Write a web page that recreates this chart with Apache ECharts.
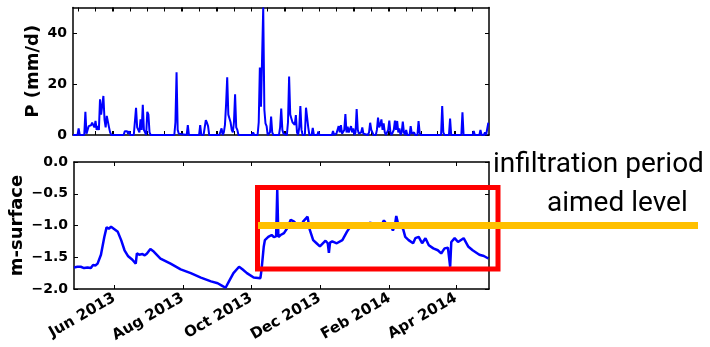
<!DOCTYPE html>
<html>
<head>
<meta charset="utf-8">
<script src="https://cdn.jsdelivr.net/npm/echarts@6/dist/echarts.min.js"></script>
<style>
html,body{margin:0;padding:0;background:#fff;}
#chart{width:710px;height:347px;}
</style>
</head>
<body>
<div id="chart"></div>
<script>
// ---- Data ----
const precipDates = [
'2013-04-26','2013-04-30','2013-05-01','2013-05-02','2013-05-06','2013-05-07','2013-05-08','2013-05-09','2013-05-10','2013-05-11',
'2013-05-12','2013-05-13','2013-05-14','2013-05-15','2013-05-16','2013-05-17','2013-05-18','2013-05-19','2013-05-20','2013-05-21',
'2013-05-22','2013-05-23','2013-05-24','2013-05-25','2013-05-26','2013-05-27','2013-05-28','2013-05-29','2013-05-30','2013-06-10',
'2013-06-11','2013-06-12','2013-06-13','2013-06-14','2013-06-15','2013-06-16','2013-06-19','2013-06-20','2013-06-21','2013-06-22',
'2013-06-23','2013-06-24','2013-06-25','2013-06-26','2013-06-27','2013-06-28','2013-06-29','2013-06-30','2013-07-01','2013-07-02',
'2013-07-03','2013-07-04','2013-07-25','2013-07-26','2013-07-27','2013-07-28','2013-07-29','2013-07-30','2013-08-05','2013-08-06',
'2013-08-07','2013-08-16','2013-08-17','2013-08-18','2013-08-20','2013-08-21','2013-08-22','2013-08-23','2013-08-24','2013-08-25',
'2013-09-03','2013-09-04','2013-09-05','2013-09-06','2013-09-07','2013-09-08','2013-09-09','2013-09-10','2013-09-11','2013-09-12',
'2013-09-13','2013-09-14','2013-09-15','2013-09-16','2013-09-17','2013-09-18','2013-09-19','2013-09-20','2013-10-02','2013-10-03',
'2013-10-04','2013-10-07','2013-10-08','2013-10-09','2013-10-10','2013-10-11','2013-10-12','2013-10-13','2013-10-14','2013-10-15',
'2013-10-16','2013-10-18','2013-10-19','2013-10-20','2013-10-21','2013-10-26','2013-10-27','2013-10-28','2013-10-29','2013-10-30',
'2013-10-31','2013-11-02','2013-11-03','2013-11-04','2013-11-05','2013-11-06','2013-11-07','2013-11-08','2013-11-09','2013-11-10',
'2013-11-11','2013-11-12','2013-11-13','2013-11-14','2013-11-15','2013-11-16','2013-11-18','2013-11-19','2013-11-20','2013-11-21',
'2013-11-22','2013-11-24','2013-11-25','2013-11-26','2013-11-29','2013-11-30','2013-12-01','2013-12-12','2013-12-13','2013-12-14',
'2013-12-16','2013-12-17','2013-12-18','2013-12-19','2013-12-20','2013-12-21','2013-12-22','2013-12-23','2013-12-24','2013-12-25',
'2013-12-26','2013-12-27','2013-12-28','2013-12-29','2013-12-30','2013-12-31','2014-01-01','2014-01-02','2014-01-03','2014-01-04',
'2014-01-05','2014-01-06','2014-01-07','2014-01-08','2014-01-09','2014-01-10','2014-01-13','2014-01-14','2014-01-15','2014-01-16',
'2014-01-17','2014-01-18','2014-01-20','2014-01-21','2014-01-22','2014-01-23','2014-01-24','2014-01-25','2014-01-26','2014-01-27',
'2014-01-28','2014-01-29','2014-01-30','2014-01-31','2014-02-01','2014-02-02','2014-02-03','2014-02-04','2014-02-05','2014-02-06',
'2014-02-07','2014-02-08','2014-02-09','2014-02-10','2014-02-11','2014-02-12','2014-02-13','2014-02-14','2014-02-15','2014-02-16',
'2014-02-17','2014-02-19','2014-02-20','2014-02-21','2014-02-22','2014-02-23','2014-02-24','2014-02-26','2014-02-27','2014-02-28',
'2014-03-01','2014-03-19','2014-03-20','2014-03-21','2014-03-22','2014-03-26','2014-03-27','2014-03-28','2014-04-06','2014-04-07',
'2014-04-08','2014-04-16','2014-04-17','2014-04-18','2014-04-22','2014-04-23','2014-04-24','2014-04-26','2014-04-27','2014-04-28',
'2014-04-29','2014-04-30'
];
const precipValues = [
0,0,2.6,0,0,9.1,0.5,1,3.5,4.2,
3.8,4.8,4.5,3,5.5,2,3.5,2,14,8,
7.8,15.3,6,3,7.5,7.4,3,1,0,0,
1.5,1,1.5,0.5,1.5,0,0,0.5,10.7,3,
2.6,1,6.1,2,11.8,2,1,0,9.1,8,
1,0,0,5,24.6,2,0.5,0,0,3.9,
0,0,3.9,0,0,0.5,5.8,4.8,3.5,0,
0,0.5,2.6,0,1,4,12,22.6,8,6.5,
5,2,1,5,16,3,2,0,0,1,
0,0,5,26.5,11.1,10.5,50,10,4.6,3.5,
0,1,7.2,1,0,0,3,10.4,2,0.5,
0,0,5,22.9,8,6.5,5,5.3,4,7.8,
1,0,3,11.4,2,0,0,10.7,10.4,3,
0,0,2.8,0,0,1.4,0,0,1.6,0,
0.5,1,3.5,1,3.9,0.5,1,2,8.2,1,
3.3,1,0.5,3.5,1,2.6,0,1,10.2,2,
0.5,0,1,3,0.5,0,0,1,4.8,2,
1,0,0,2,6.8,3,4,6.1,2,4.6,
1,0,1,2,5.6,1,0,0.5,2,5.6,
2,5.5,1,2.6,0,1,5.3,1,0,2,
0,0,3.5,0.5,0,1,0,0,5.5,0.8,
0,0,11.4,1,0,0,6.4,0,0,8.9,
0,0,1.6,0,0,2,0,0,1,0,
0.5,4.8
];

const levelDates = [
'2013-04-26','2013-04-29','2013-05-02','2013-05-05','2013-05-08','2013-05-11','2013-05-13','2013-05-15','2013-05-17','2013-05-20',
'2013-05-23','2013-05-25','2013-05-27','2013-05-29','2013-06-01','2013-06-04','2013-06-07','2013-06-10','2013-06-13','2013-06-17',
'2013-06-20','2013-06-21','2013-06-23','2013-06-26','2013-06-28','2013-06-30','2013-07-03','2013-07-06','2013-07-12','2013-07-21',
'2013-07-30','2013-08-08','2013-08-17','2013-08-26','2013-09-01','2013-09-05','2013-09-08','2013-09-11','2013-09-15','2013-09-20',
'2013-09-23','2013-09-27','2013-10-03','2013-10-09','2013-10-10','2013-10-12','2013-10-13','2013-10-16','2013-10-19','2013-10-21',
'2013-10-22','2013-10-23','2013-10-24','2013-10-25','2013-10-27','2013-10-30','2013-11-02','2013-11-05','2013-11-08','2013-11-11',
'2013-11-14','2013-11-16','2013-11-20','2013-11-22','2013-11-25','2013-11-28','2013-12-01','2013-12-06','2013-12-08','2013-12-09',
'2013-12-10','2013-12-12','2013-12-16','2013-12-21','2013-12-25','2013-12-28','2014-01-01','2014-01-04','2014-01-08','2014-01-12',
'2014-01-15','2014-01-18','2014-01-21','2014-01-24','2014-01-27','2014-01-30','2014-02-02','2014-02-04','2014-02-06','2014-02-07',
'2014-02-09','2014-02-13','2014-02-15','2014-02-18','2014-02-19','2014-02-22','2014-02-24','2014-02-27','2014-03-02','2014-03-05',
'2014-03-08','2014-03-12','2014-03-16','2014-03-19','2014-03-22','2014-03-25','2014-03-26','2014-03-27','2014-03-28','2014-03-31',
'2014-04-03','2014-04-08','2014-04-12','2014-04-16','2014-04-22','2014-04-26','2014-04-30'
];
const levelValues = [
-1.66,-1.65,-1.65,-1.67,-1.66,-1.67,-1.62,-1.63,-1.60,-1.46,
-1.18,-1.03,-1.05,-1.02,-1.06,-1.10,-1.23,-1.39,-1.48,-1.54,
-1.60,-1.44,-1.46,-1.45,-1.47,-1.44,-1.37,-1.41,-1.52,-1.60,
-1.69,-1.75,-1.82,-1.88,-1.91,-1.95,-1.98,-1.88,-1.75,-1.65,
-1.69,-1.75,-1.82,-1.83,-1.70,-1.33,-1.23,-1.18,-1.15,-1.18,
-1.20,-1.17,-0.44,-1.18,-1.15,-1.12,-1.04,-0.91,-0.94,-1.00,
-1.04,-0.94,-0.86,-1.07,-1.23,-1.28,-1.33,-1.24,-1.28,-1.43,
-1.27,-1.25,-1.28,-1.23,-1.10,-1.02,-1.00,-0.97,-1.02,-1.00,
-0.95,-1.03,-0.98,-1.02,-0.92,-1.00,-0.98,-1.08,-0.97,-0.85,
-1.00,-1.05,-1.18,-1.23,-1.25,-1.28,-1.20,-1.18,-1.28,-1.20,
-1.31,-1.36,-1.39,-1.44,-1.36,-1.35,-1.36,-1.65,-1.26,-1.20,
-1.26,-1.20,-1.33,-1.39,-1.46,-1.48,-1.52
];

const xTickDates = ['2013-06-01','2013-08-01','2013-10-01','2013-12-01','2014-02-01','2014-04-01'];
const xTickLabels = ['Jun 2013','Aug 2013','Oct 2013','Dec 2013','Feb 2014','Apr 2014'];
const pTicks = [0, 20, 40];
const levelTicks = [-2.0, -1.5, -1.0, -0.5, 0.0];
const xStart = '2013-04-26';
const xEnd = '2014-04-30';

// ---- helpers ----
function toTs(s) { const p = s.split('-').map(Number); return new Date(p[0], p[1] - 1, p[2]).getTime(); }
const xMin = toTs(xStart);
const xMax = toTs(xEnd) + 14 * 3600 * 1000;
const bottomTicks = xTickDates.map(toTs);
const labelByTs = {};
bottomTicks.forEach((t, i) => { labelByTs[t] = xTickLabels[i]; });
// top panel: date ticks on days 1, 16, 31 of each month
const topTicks = [];
for (let y = 2013; y <= 2014; y++) {
  for (let m = 0; m < 12; m++) {
    [1, 16, 31].forEach(d => {
      const dt = new Date(y, m, d);
      if (dt.getMonth() === m) {
        const t = dt.getTime();
        if (t >= xMin && t <= xMax) topTicks.push(t);
      }
    });
  }
}

const FONT = 'DejaVu Sans';
const frame = { show: true, onZero: false, lineStyle: { color: '#000', width: 1.5 } };
const tickStyle = { lineStyle: { color: '#000', width: 1 } };

function xAx(grid, pos, ticks, labels) {
  return {
    type: 'value', gridIndex: grid, position: pos, min: xMin, max: xMax,
    axisLine: frame,
    axisTick: Object.assign({ show: true, inside: true, length: 4, customValues: ticks }, tickStyle),
    axisLabel: labels ? {
      show: true, customValues: ticks, rotate: 30, margin: 8,
      fontFamily: FONT, fontWeight: 'bold', fontSize: 15, color: '#000',
      formatter: v => labelByTs[v] || ''
    } : { show: false },
    splitLine: { show: false }
  };
}
function yAx(grid, pos, min, max, ticks, labels, fmt, name, gap) {
  return {
    type: 'value', gridIndex: grid, position: pos, min: min, max: max,
    axisLine: frame,
    axisTick: Object.assign({ show: true, inside: true, length: 4, customValues: ticks }, tickStyle),
    axisLabel: labels ? {
      show: true, customValues: ticks, margin: 6,
      fontFamily: FONT, fontWeight: 'bold', fontSize: 14, color: '#000', formatter: fmt
    } : { show: false },
    splitLine: { show: false },
    name: name || '', nameLocation: 'middle', nameGap: gap || 0, nameRotate: 90,
    nameMoveOverlap: false,
    nameTextStyle: { fontFamily: FONT, fontWeight: 'bold', fontSize: 18, color: '#000' }
  };
}

const chart = echarts.init(document.getElementById('chart'), null, { renderer: 'canvas' });
chart.setOption({
  animation: false,
  backgroundColor: '#fff',
  grid: [
    { left: 73, top: 7.5, width: 416, height: 127.5 },
    { left: 73, top: 162, width: 416, height: 127 }
  ],
  xAxis: [
    xAx(0, 'bottom', topTicks, false),
    xAx(0, 'top', topTicks, false),
    xAx(1, 'bottom', bottomTicks, true),
    xAx(1, 'top', bottomTicks, false)
  ],
  yAxis: [
    yAx(0, 'left', 0, 50, pTicks, true, v => String(v), 'P (mm/d)', 31),
    yAx(0, 'right', 0, 50, pTicks, false),
    yAx(1, 'left', -2, 0, levelTicks, true, v => (v < 0 ? '\u2212' : '') + Math.abs(v).toFixed(1), 'm-surface', 48),
    yAx(1, 'right', -2, 0, levelTicks, false)
  ],
  series: [
    {
      type: 'line', xAxisIndex: 0, yAxisIndex: 0, showSymbol: false, clip: true,
      lineStyle: { color: '#0000ff', width: 2 },
      data: precipDates.map((d, i) => [toTs(d), precipValues[i]])
    },
    {
      type: 'line', xAxisIndex: 2, yAxisIndex: 2, showSymbol: false, clip: true,
      lineStyle: { color: '#0000ff', width: 2.5 },
      data: levelDates.map((d, i) => [toTs(d), levelValues[i]])
    }
  ],
  graphic: [
    { type: 'rect', z: 100, shape: { x: 257.5, y: 187.5, width: 240.5, height: 81.5 },
      style: { fill: 'none', stroke: '#ff0000', lineWidth: 5 } },
    { type: 'line', z: 101, shape: { x1: 258, y1: 225.5, x2: 698, y2: 225.5 },
      style: { stroke: '#ffc000', lineWidth: 7 } },
    { type: 'text', z: 102, x: 493, y: 165,
      style: { text: 'infiltration period', fontFamily: 'Roboto', fontSize: 28, fill: '#000', verticalAlign: 'middle', align: 'left' } },
    { type: 'text', z: 102, x: 547, y: 204,
      style: { text: 'aimed level', fontFamily: 'Roboto', fontSize: 28, fill: '#000', verticalAlign: 'middle', align: 'left' } }
  ]
});
</script>
</body>
</html>
